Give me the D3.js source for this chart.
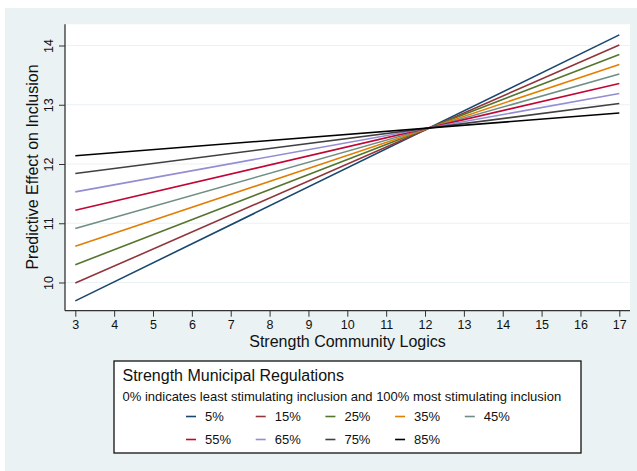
<!DOCTYPE html>
<html>
<head>
<meta charset="utf-8">
<script src="https://cdn.jsdelivr.net/npm/d3@7"></script>
<style>
  html, body { margin: 0; padding: 0; background: #ffffff; }
  svg { display: block; font-family: "Liberation Sans", Arial, sans-serif; }
</style>
</head>
<body>
<svg id="chart" width="637" height="471"></svg>
<script>
// Regulation-strength levels, one fitted line each
const levels = ["5%", "15%", "25%", "35%", "45%", "55%", "65%", "75%", "85%"];
const lineColors = ["#1a476f", "#90353b", "#55752f", "#e37e00", "#6e8e84",
                    "#c10534", "#938dd2", "#404040", "#000000"];
// Predicted effect at the low and high end of community-logic strength
const xStart = 3, xEnd = 17;
const valuesAtStart = [9.69, 9.99, 10.30, 10.61, 10.91, 11.22, 11.53, 11.84, 12.14];
const valuesAtEnd   = [14.18, 14.01, 13.85, 13.68, 13.52, 13.36, 13.19, 13.02, 12.86];
const xTicks = [3, 4, 5, 6, 7, 8, 9, 10, 11, 12, 13, 14, 15, 16, 17];
const yTicks = [10, 11, 12, 13, 14];

const svg = d3.select("#chart");
const W = 637, H = 471;
const plot = { left: 65, right: 630, top: 24.3, bottom: 310.7 };

// outer graph region
svg.append("rect").attr("x", 5).attr("y", 8).attr("width", W - 5).attr("height", H - 8)
  .attr("fill", "#eaf2f3");
// plot region
svg.append("rect").attr("x", plot.left).attr("y", plot.top)
  .attr("width", plot.right - plot.left).attr("height", plot.bottom - plot.top)
  .attr("fill", "#ffffff");

const x = d3.scaleLinear().domain([2.735, 17.275]).range([plot.left, plot.right]);
const y = d3.scaleLinear().domain([9.524, 14.358]).range([plot.bottom, plot.top]);

// horizontal grid
svg.append("g").selectAll("line").data(yTicks).join("line")
  .attr("x1", plot.left).attr("x2", plot.right)
  .attr("y1", d => y(d)).attr("y2", d => y(d))
  .attr("stroke", "#eaf2f3").attr("stroke-width", 1.2);

// fitted lines
const series = levels.map((lv, i) => ({
  level: lv, color: lineColors[i],
  pts: [[xStart, valuesAtStart[i]], [xEnd, valuesAtEnd[i]]]
}));
const lineGen = d3.line().x(d => x(d[0])).y(d => y(d[1]));
svg.append("g").selectAll("path").data(series).join("path")
  .attr("d", d => lineGen(d.pts))
  .attr("fill", "none").attr("stroke", d => d.color).attr("stroke-width", 1.6);

// axes
const xAxis = d3.axisBottom(x).tickValues(xTicks).tickSize(6).tickPadding(3).tickFormat(d3.format("d"));
const gx = svg.append("g").attr("transform", `translate(0,${plot.bottom})`).call(xAxis);
gx.select(".domain").attr("d", `M${plot.left},0H${plot.right}`).attr("stroke", "#333").attr("stroke-width", 1.3);
gx.selectAll(".tick line").attr("stroke", "#333");
gx.selectAll(".tick text").attr("font-size", 12.5).attr("fill", "#111")
  .attr("font-family", "Liberation Sans, Arial, sans-serif");

const yAxis = d3.axisLeft(y).tickValues(yTicks).tickSize(6).tickPadding(4).tickFormat(d3.format("d"));
const gy = svg.append("g").attr("transform", `translate(${plot.left},0)`).call(yAxis);
gy.select(".domain").attr("d", `M0,${plot.top}V${plot.bottom}`).attr("stroke", "#333").attr("stroke-width", 1.3);
gy.selectAll(".tick line").attr("stroke", "#333");
gy.selectAll(".tick text")
  .attr("font-size", 12.5).attr("fill", "#111")
  .attr("font-family", "Liberation Sans, Arial, sans-serif")
  .attr("text-anchor", "middle").attr("dy", null).attr("x", null)
  .attr("transform", "translate(-12.5,0) rotate(-90)")
  .attr("dominant-baseline", "auto").attr("y", 0);

// axis titles
svg.append("text").attr("x", (plot.left + plot.right) / 2).attr("y", 347)
  .attr("text-anchor", "middle").attr("font-size", 16).attr("fill", "#111")
  .text("Strength Community Logics");
svg.append("text").attr("transform", `translate(38,167) rotate(-90)`)
  .attr("text-anchor", "middle").attr("font-size", 16).attr("fill", "#111")
  .text("Predictive Effect on Inclusion");

// legend
const lg = svg.append("g");
lg.append("rect").attr("x", 114).attr("y", 361).attr("width", 467).attr("height", 92)
  .attr("fill", "#ffffff").attr("stroke", "#111").attr("stroke-width", 1.3);
lg.append("text").attr("x", 122.5).attr("y", 381).attr("font-size", 16).attr("fill", "#111")
  .text("Strength Municipal Regulations");
lg.append("text").attr("x", 122.5).attr("y", 401).attr("font-size", 13).attr("fill", "#111")
  .text("0% indicates least stimulating inclusion and 100% most stimulating inclusion");

const colX = d3.scaleLinear().domain([0, 1]).range([186, 255.7]);
const items = lg.selectAll("g.item").data(series).join("g").attr("class", "item")
  .attr("transform", (d, i) => `translate(${colX(i % 5)},${i < 5 ? 421 : 444})`);
items.append("line").attr("x1", 0).attr("x2", 10).attr("y1", -4.5).attr("y2", -4.5)
  .attr("stroke", d => d.color).attr("stroke-width", 1.6);
items.append("text").attr("x", 19).attr("y", 0).attr("font-size", 13).attr("fill", "#111")
  .text(d => d.level);
</script>
</body>
</html>
